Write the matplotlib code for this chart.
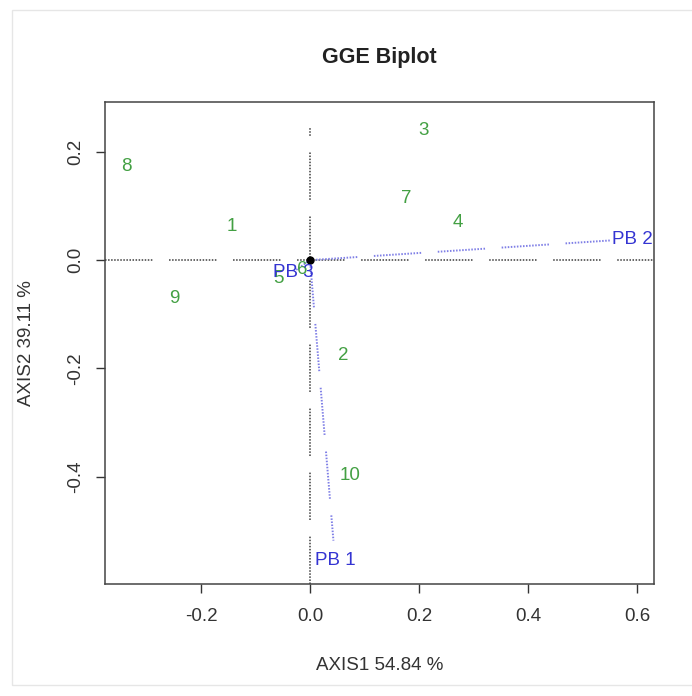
import matplotlib
matplotlib.use("Agg")
import matplotlib.pyplot as plt
from matplotlib.patches import Rectangle

plt.rcParams["font.family"] = ["Liberation Sans", "DejaVu Sans"]
plt.rcParams["lines.scale_dashes"] = False

# genotypes (green) and environments (blue)
GEN_LABELS = ["1", "2", "3", "4", "5", "6", "7", "8", "9", "10"]
GEN_X = [-0.143, 0.061, 0.209, 0.272, -0.057, -0.015, 0.176, -0.336, -0.248, 0.073]
GEN_Y = [0.063, -0.177, 0.240, 0.070, -0.033, -0.018, 0.113, 0.172, -0.070, -0.398]
ENV_LABELS = ["PB 1", "PB 2", "PB 3"]
ENV_X = [0.046, 0.591, -0.031]
ENV_Y = [-0.554, 0.039, -0.022]

XTICKS = [-0.2, 0.0, 0.2, 0.4, 0.6]
YTICKS = [-0.4, -0.2, 0.0, 0.2]
TITLE = "GGE Biplot"
XLAB = "AXIS1 54.84 %"
YLAB = "AXIS2 39.11 %"

GREEN = "#43a043"
BLUE = "#3434d2"
BLUE_DOT = "#7f7fe6"
INK = "#333333"
DOTS = (0, [1.1, 1.1] * 15 + [1.1, 12.0])     # dotted runs with gaps, as in the R output

W, H = 692, 696
L, R, T, B = 105, 654, 102, 584                 # plot box in pixels

fig = plt.figure(figsize=(W / 100, H / 100), dpi=100)
fig.patches.append(Rectangle((12 / W, 1 - 685 / H), 1.0, 675 / H, transform=fig.transFigure,
                             fill=False, edgecolor="#e6e6e6", lw=1.0))
ax = fig.add_axes([L / W, 1 - B / H, (R - L) / W, (B - T) / H])
ax.set_xlim(-0.376, 0.631)
ax.set_ylim(-0.598, 0.292)

# reference axes through the origin
ax.axhline(0, color="#666666", lw=1.4, ls=DOTS, zorder=1)
ax.plot([0, 0], [-0.598, 0.245], color="#666666", lw=1.4, ls=DOTS, zorder=1)

# environment vectors
for x, y in zip(ENV_X, ENV_Y):
    ax.plot([0, 0.935 * x], [0, 0.935 * y], color=BLUE_DOT, lw=1.4, ls=DOTS, zorder=2)
ax.plot(0, 0, "o", color="black", ms=5, zorder=4)

for lab, x, y in zip(GEN_LABELS, GEN_X, GEN_Y):
    ax.text(x, y, lab, color=GREEN, fontsize=13.5, ha="center", va="center", zorder=3)
for lab, x, y in zip(ENV_LABELS, ENV_X, ENV_Y):
    ax.text(x, y, lab, color=BLUE, fontsize=13.5, ha="center", va="center", zorder=5)

ax.set_xticks(XTICKS)
ax.set_xticklabels([f"{t:.1f}" for t in XTICKS])
ax.set_yticks(YTICKS)
ax.set_yticklabels([f"{t:.1f}" for t in YTICKS])
ax.tick_params(direction="out", length=6.5, width=1.0, color=INK, labelcolor=INK, labelsize=13.5)
ax.tick_params(axis="x", pad=11)
ax.tick_params(axis="y", pad=8.5)
for lab in ax.get_yticklabels():
    lab.set_rotation(90)
    lab.set_va("center")
for sp in ax.spines.values():
    sp.set_color("#444444")
    sp.set_linewidth(1.1)

ax.set_xlabel(XLAB, fontsize=13.5, color=INK, va="center")
ax.xaxis.set_label_coords(0.5, (B - 665) / (B - T))
ax.set_ylabel(YLAB, fontsize=13.5, color=INK, va="center")
ax.yaxis.set_label_coords((27 - L) / (R - L), 0.5)
ax.text(0.5, (B - 58) / (B - T), TITLE, transform=ax.transAxes, fontsize=15.5,
        fontweight="bold", color="#222222", ha="center", va="center")

fig.savefig("out.png", dpi=100)
plt.close(fig)
